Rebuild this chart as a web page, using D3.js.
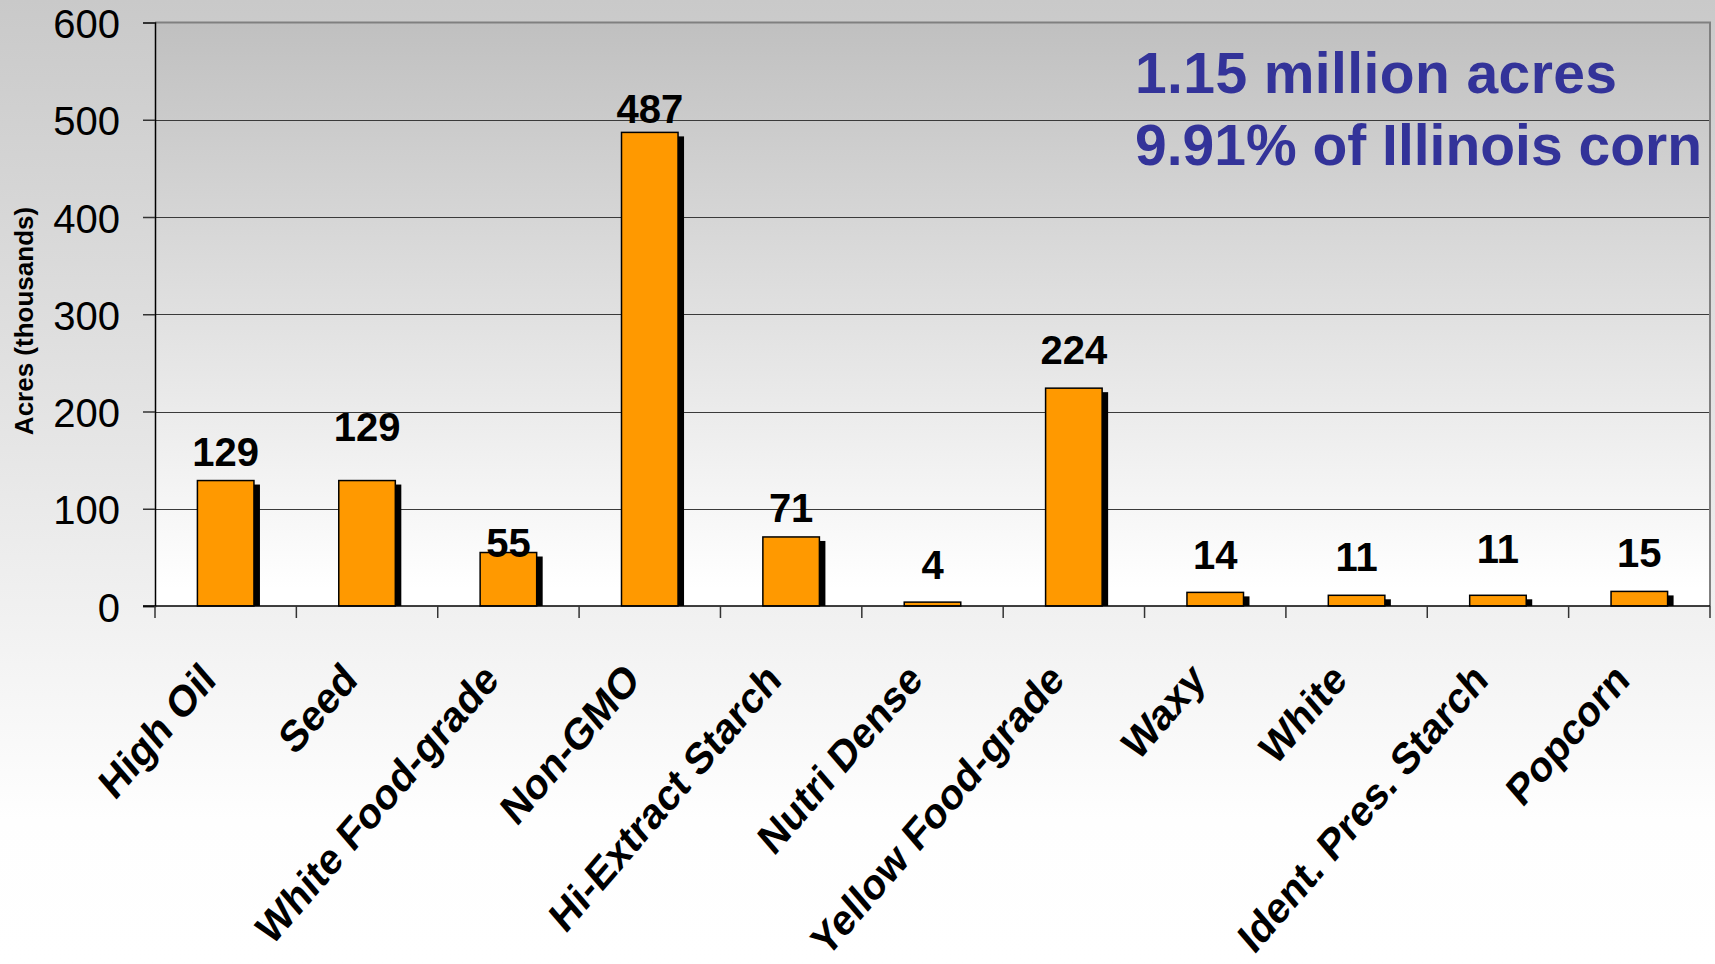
<!DOCTYPE html>
<html>
<head>
<meta charset="utf-8">
<script src="https://cdn.jsdelivr.net/npm/d3@7"></script>
<style>
  html, body { margin: 0; padding: 0; }
  svg { display: block; }
  text { font-family: "Liberation Sans", Arial, Helvetica, sans-serif; }
</style>
</head>
<body>
<svg id="chart" width="1715" height="964"></svg>
<script>
// ---- data ----
const categories = ["High Oil", "Seed", "White Food-grade", "Non-GMO", "Hi-Extract Starch",
  "Nutri Dense", "Yellow Food-grade", "Waxy", "White", "Ident. Pres. Starch", "Popcorn"];
const acres = [129, 129, 55, 487, 71, 4, 224, 14, 11, 11, 15];
const yTicks = [0, 100, 200, 300, 400, 500, 600];
const yTitle = "Acres (thousands)";
const notes = ["1.15 million acres", "9.91% of Illinois corn"];
// label lift above bar top (px), as placed in the original
const labelLift = [15, 40, -4, 9, 15, 23, 24, 23, 24, 32, 24];

// ---- layout ----
const W = 1715, H = 964;
const plot = { left: 155, right: 1710, top: 22.5, bottom: 606 };

const svg = d3.select("#chart");
const defs = svg.append("defs");

const pageGrad = defs.append("linearGradient").attr("id", "pageGrad")
  .attr("x1", 0).attr("y1", 0).attr("x2", 0).attr("y2", 1);
pageGrad.append("stop").attr("offset", "0%").attr("stop-color", "#c9c9c9");
pageGrad.append("stop").attr("offset", "85%").attr("stop-color", "#fefefe");
pageGrad.append("stop").attr("offset", "100%").attr("stop-color", "#ffffff");

const plotGrad = defs.append("linearGradient").attr("id", "plotGrad")
  .attr("x1", 0).attr("y1", 0).attr("x2", 0).attr("y2", 1);
plotGrad.append("stop").attr("offset", "0%").attr("stop-color", "#c0c0c0");
plotGrad.append("stop").attr("offset", "97%").attr("stop-color", "#ffffff");
plotGrad.append("stop").attr("offset", "100%").attr("stop-color", "#ffffff");

svg.append("rect").attr("width", W).attr("height", H).attr("fill", "url(#pageGrad)");

const x = d3.scaleBand().domain(categories)
  .range([plot.left, plot.right]).paddingInner(0.6).paddingOuter(0.3);
const y = d3.scaleLinear().domain([0, 600]).range([plot.bottom, plot.top]);

// plot area
svg.append("rect")
  .attr("x", plot.left).attr("y", plot.top)
  .attr("width", plot.right - plot.left).attr("height", plot.bottom - plot.top)
  .attr("fill", "url(#plotGrad)");

// gridlines
svg.append("g").selectAll("line").data(yTicks.filter(d => d > 0 && d < 600)).join("line")
  .attr("x1", plot.left).attr("x2", plot.right)
  .attr("y1", d => Math.round(y(d)) + 0.5).attr("y2", d => Math.round(y(d)) + 0.5)
  .attr("stroke", "#3a3a3a").attr("stroke-width", 1);

// top & right border
svg.append("path")
  .attr("d", `M${plot.left},${plot.top}H${plot.right}V${plot.bottom}`)
  .attr("fill", "none").attr("stroke", "#808080").attr("stroke-width", 2);

// y axis
const yAxis = d3.axisLeft(y).tickValues(yTicks).tickSize(12).tickPadding(23);
const gy = svg.append("g").attr("transform", `translate(${plot.left},0)`).call(yAxis);
gy.select(".domain").attr("stroke", "#000").attr("stroke-width", 1.5);
gy.selectAll(".tick line").attr("stroke", "#333").attr("stroke-width", 1.5);
gy.selectAll(".tick text")
  .attr("font-size", 40).attr("fill", "#000")
  .attr("font-family", "'Liberation Sans', Arial, sans-serif")
  .attr("dy", "0.38em");

// y title
svg.append("text")
  .attr("transform", `translate(33,321) rotate(-90)`)
  .attr("text-anchor", "middle")
  .attr("font-size", 26).attr("font-weight", "bold").attr("fill", "#000")
  .text(yTitle);

// bar shadows
const shadowDx = 6, shadowDy = 4;
svg.append("g").selectAll("rect").data(acres).join("rect")
  .attr("x", (d, i) => x(categories[i]) + shadowDx)
  .attr("y", d => y(d) + shadowDy)
  .attr("width", x.bandwidth())
  .attr("height", d => Math.max(0, y(0) - y(d) - shadowDy))
  .attr("fill", "#000");

// bars
svg.append("g").selectAll("rect").data(acres).join("rect")
  .attr("x", (d, i) => x(categories[i]))
  .attr("y", d => y(d))
  .attr("width", x.bandwidth())
  .attr("height", d => y(0) - y(d))
  .attr("fill", "#ff9900").attr("stroke", "#000").attr("stroke-width", 1.5);

// x axis
const xAxisLine = svg.append("g");
xAxisLine.append("line")
  .attr("x1", plot.left - 12).attr("x2", plot.right)
  .attr("y1", plot.bottom).attr("y2", plot.bottom)
  .attr("stroke", "#000").attr("stroke-width", 1.5);
const boundaries = categories.map(c => x(c) - x.step() * 0.3).concat([plot.right]);
xAxisLine.selectAll("line.tk").data(boundaries).join("line").attr("class", "tk")
  .attr("x1", d => d).attr("x2", d => d)
  .attr("y1", plot.bottom).attr("y2", plot.bottom + 12)
  .attr("stroke", "#333").attr("stroke-width", 1.5);

// category labels (original is slightly stretched vertically)
svg.append("g").selectAll("text").data(categories).join("text")
  .attr("transform", d => `translate(${x(d) + x.bandwidth() / 2 - 8},682) scale(1.0,1.16) rotate(-45)`)
  .attr("text-anchor", "end")
  .attr("font-size", 38).attr("font-weight", "bold").attr("fill", "#000")
  .text(d => d);

// value labels
svg.append("g").selectAll("text").data(acres).join("text")
  .attr("x", (d, i) => x(categories[i]) + x.bandwidth() / 2)
  .attr("y", (d, i) => y(d) - labelLift[i])
  .attr("text-anchor", "middle")
  .attr("font-size", 40).attr("font-weight", "bold").attr("fill", "#000")
  .text(d => d);

// annotation
svg.append("g").selectAll("text").data(notes).join("text")
  .attr("x", 1135).attr("y", (d, i) => 93 + i * 72)
  .attr("font-size", 57).attr("font-weight", "bold").attr("fill", "#333399")
  .attr("letter-spacing", (d, i) => i === 0 ? 0.4 : 0)
  .text(d => d);
</script>
</body>
</html>
